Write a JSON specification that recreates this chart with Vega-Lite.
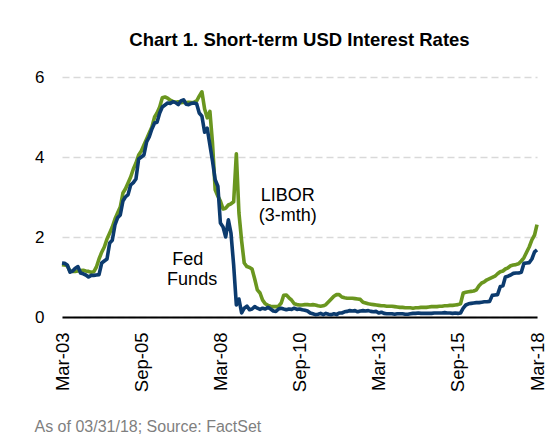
{
  "$schema": "https://vega.github.io/schema/vega-lite/v6.json",
  "width": 475,
  "height": 240,
  "autosize": "none",
  "padding": {"left": 62, "top": 77, "right": 22, "bottom": 120},
  "background": "white",
  "config": {"view": {"stroke": null}, "font": "Liberation Sans"},
  "title": {"text": "Chart 1. Short-term USD Interest Rates", "font": "Liberation Sans", "fontSize": 18.5, "fontWeight": "bold", "color": "#000000", "anchor": "middle", "offset": 19},
  "data": {"values": [
    {"d":"2003/03/01","f":1.35,"l":1.31},{"d":"2003/04/01","f":1.34,"l":1.30},{"d":"2003/05/01","f":1.30,"l":1.28},{"d":"2003/06/01","f":1.12,"l":1.15},{"d":"2003/07/01","f":1.15,"l":1.14},{"d":"2003/08/01","f":1.22,"l":1.14},{"d":"2003/09/01","f":1.26,"l":1.15},{"d":"2003/10/01","f":1.10,"l":1.16},{"d":"2003/11/01","f":1.08,"l":1.17},{"d":"2003/12/01","f":1.05,"l":1.15},
    {"d":"2004/01/01","f":1.00,"l":1.14},{"d":"2004/02/01","f":1.04,"l":1.12},{"d":"2004/03/01","f":1.04,"l":1.13},{"d":"2004/04/01","f":1.05,"l":1.25},{"d":"2004/05/01","f":1.06,"l":1.45},{"d":"2004/06/01","f":1.35,"l":1.62},{"d":"2004/07/01","f":1.40,"l":1.75},{"d":"2004/08/01","f":1.45,"l":1.95},{"d":"2004/09/01","f":1.85,"l":2.10},{"d":"2004/10/01","f":1.92,"l":2.25},{"d":"2004/11/01","f":2.30,"l":2.45},{"d":"2004/12/01","f":2.48,"l":2.60},
    {"d":"2005/01/01","f":2.55,"l":2.75},{"d":"2005/02/01","f":2.90,"l":3.10},{"d":"2005/03/01","f":3.00,"l":3.20},{"d":"2005/04/01","f":3.06,"l":3.35},{"d":"2005/05/01","f":3.30,"l":3.50},{"d":"2005/06/01","f":3.36,"l":3.70},{"d":"2005/07/01","f":3.45,"l":3.85},{"d":"2005/08/01","f":3.95,"l":4.05},{"d":"2005/09/01","f":4.00,"l":4.15},{"d":"2005/10/01","f":4.05,"l":4.30},{"d":"2005/11/01","f":4.38,"l":4.45},{"d":"2005/12/01","f":4.50,"l":4.60},
    {"d":"2006/01/01","f":4.70,"l":4.75},{"d":"2006/02/01","f":4.85,"l":5.00},{"d":"2006/03/01","f":4.87,"l":5.10},{"d":"2006/04/01","f":5.10,"l":5.25},{"d":"2006/05/01","f":5.25,"l":5.48},{"d":"2006/06/01","f":5.30,"l":5.50},{"d":"2006/07/01","f":5.35,"l":5.47},{"d":"2006/08/01","f":5.34,"l":5.42},{"d":"2006/09/01","f":5.38,"l":5.39},{"d":"2006/10/01","f":5.36,"l":5.37},{"d":"2006/11/01","f":5.31,"l":5.38},{"d":"2006/12/01","f":5.40,"l":5.36},
    {"d":"2007/01/01","f":5.43,"l":5.37},{"d":"2007/02/01","f":5.32,"l":5.36},{"d":"2007/03/01","f":5.31,"l":5.37},{"d":"2007/04/01","f":5.34,"l":5.36},{"d":"2007/05/01","f":5.35,"l":5.37},{"d":"2007/06/01","f":5.33,"l":5.40},{"d":"2007/07/01","f":5.10,"l":5.52},{"d":"2007/08/01","f":5.02,"l":5.63},{"d":"2007/09/01","f":4.62,"l":5.20},{"d":"2007/10/01","f":4.72,"l":4.98},{"d":"2007/11/01","f":4.30,"l":5.14},{"d":"2007/12/01","f":3.90,"l":4.35},
    {"d":"2008/01/01","f":3.43,"l":3.18},{"d":"2008/02/01","f":3.27,"l":3.02},{"d":"2008/03/01","f":2.35,"l":2.90},{"d":"2008/04/01","f":2.25,"l":2.70},{"d":"2008/05/01","f":2.00,"l":2.72},{"d":"2008/06/01","f":2.43,"l":2.80},{"d":"2008/07/01","f":2.10,"l":2.83},{"d":"2008/08/01","f":1.30,"l":2.88},{"d":"2008/09/01","f":0.30,"l":4.08},{"d":"2008/10/01","f":0.45,"l":2.60},{"d":"2008/11/01","f":0.10,"l":1.90},{"d":"2008/12/01","f":0.22,"l":1.35},
    {"d":"2009/01/01","f":0.27,"l":1.26},{"d":"2009/02/01","f":0.18,"l":1.24},{"d":"2009/03/01","f":0.20,"l":1.20},{"d":"2009/04/01","f":0.26,"l":0.95},{"d":"2009/05/01","f":0.22,"l":0.68},{"d":"2009/06/01","f":0.19,"l":0.60},{"d":"2009/07/01","f":0.22,"l":0.42},{"d":"2009/08/01","f":0.20,"l":0.33},{"d":"2009/09/01","f":0.24,"l":0.29},{"d":"2009/10/01","f":0.20,"l":0.27},{"d":"2009/11/01","f":0.15,"l":0.26},{"d":"2009/12/01","f":0.14,"l":0.26},
    {"d":"2010/01/01","f":0.20,"l":0.27},{"d":"2010/02/01","f":0.22,"l":0.35},{"d":"2010/03/01","f":0.20,"l":0.54},{"d":"2010/04/01","f":0.18,"l":0.55},{"d":"2010/05/01","f":0.20,"l":0.48},{"d":"2010/06/01","f":0.19,"l":0.42},{"d":"2010/07/01","f":0.22,"l":0.33},{"d":"2010/08/01","f":0.19,"l":0.31},{"d":"2010/09/01","f":0.20,"l":0.30},{"d":"2010/10/01","f":0.18,"l":0.30},{"d":"2010/11/01","f":0.17,"l":0.31},{"d":"2010/12/01","f":0.15,"l":0.31},
    {"d":"2011/01/01","f":0.10,"l":0.30},{"d":"2011/02/01","f":0.08,"l":0.31},{"d":"2011/03/01","f":0.06,"l":0.30},{"d":"2011/04/01","f":0.07,"l":0.28},{"d":"2011/05/01","f":0.09,"l":0.27},{"d":"2011/06/01","f":0.06,"l":0.28},{"d":"2011/07/01","f":0.09,"l":0.31},{"d":"2011/08/01","f":0.07,"l":0.38},{"d":"2011/09/01","f":0.06,"l":0.45},{"d":"2011/10/01","f":0.08,"l":0.52},{"d":"2011/11/01","f":0.06,"l":0.56},{"d":"2011/12/01","f":0.10,"l":0.56},
    {"d":"2012/01/01","f":0.10,"l":0.50},{"d":"2012/02/01","f":0.13,"l":0.48},{"d":"2012/03/01","f":0.14,"l":0.47},{"d":"2012/04/01","f":0.16,"l":0.47},{"d":"2012/05/01","f":0.15,"l":0.47},{"d":"2012/06/01","f":0.16,"l":0.46},{"d":"2012/07/01","f":0.13,"l":0.45},{"d":"2012/08/01","f":0.15,"l":0.44},{"d":"2012/09/01","f":0.16,"l":0.37},{"d":"2012/10/01","f":0.15,"l":0.35},{"d":"2012/11/01","f":0.16,"l":0.33},{"d":"2012/12/01","f":0.14,"l":0.32},
    {"d":"2013/01/01","f":0.13,"l":0.31},{"d":"2013/02/01","f":0.14,"l":0.30},{"d":"2013/03/01","f":0.10,"l":0.29},{"d":"2013/04/01","f":0.12,"l":0.28},{"d":"2013/05/01","f":0.09,"l":0.28},{"d":"2013/06/01","f":0.08,"l":0.27},{"d":"2013/07/01","f":0.08,"l":0.27},{"d":"2013/08/01","f":0.08,"l":0.27},{"d":"2013/09/01","f":0.07,"l":0.26},{"d":"2013/10/01","f":0.08,"l":0.25},{"d":"2013/11/01","f":0.08,"l":0.24},{"d":"2013/12/01","f":0.08,"l":0.24},
    {"d":"2014/01/01","f":0.07,"l":0.23},{"d":"2014/02/01","f":0.07,"l":0.23},{"d":"2014/03/01","f":0.08,"l":0.23},{"d":"2014/04/01","f":0.09,"l":0.22},{"d":"2014/05/01","f":0.09,"l":0.23},{"d":"2014/06/01","f":0.10,"l":0.23},{"d":"2014/07/01","f":0.09,"l":0.24},{"d":"2014/08/01","f":0.09,"l":0.24},{"d":"2014/09/01","f":0.09,"l":0.24},{"d":"2014/10/01","f":0.09,"l":0.25},{"d":"2014/11/01","f":0.09,"l":0.26},{"d":"2014/12/01","f":0.10,"l":0.26},
    {"d":"2015/01/01","f":0.10,"l":0.26},{"d":"2015/02/01","f":0.10,"l":0.27},{"d":"2015/03/01","f":0.10,"l":0.27},{"d":"2015/04/01","f":0.11,"l":0.28},{"d":"2015/05/01","f":0.10,"l":0.28},{"d":"2015/06/01","f":0.10,"l":0.29},{"d":"2015/07/01","f":0.09,"l":0.29},{"d":"2015/08/01","f":0.10,"l":0.30},{"d":"2015/09/01","f":0.09,"l":0.31},{"d":"2015/10/01","f":0.10,"l":0.33},{"d":"2015/11/01","f":0.22,"l":0.60},{"d":"2015/12/01","f":0.30,"l":0.62},
    {"d":"2016/01/01","f":0.33,"l":0.63},{"d":"2016/02/01","f":0.34,"l":0.64},{"d":"2016/03/01","f":0.35,"l":0.65},{"d":"2016/04/01","f":0.36,"l":0.68},{"d":"2016/05/01","f":0.36,"l":0.78},{"d":"2016/06/01","f":0.37,"l":0.85},{"d":"2016/07/01","f":0.38,"l":0.88},{"d":"2016/08/01","f":0.38,"l":0.93},{"d":"2016/09/01","f":0.39,"l":0.96},{"d":"2016/10/01","f":0.54,"l":0.99},{"d":"2016/11/01","f":0.55,"l":1.02},{"d":"2016/12/01","f":0.56,"l":1.08},
    {"d":"2017/01/01","f":0.76,"l":1.13},{"d":"2017/02/01","f":0.78,"l":1.15},{"d":"2017/03/01","f":1.00,"l":1.20},{"d":"2017/04/01","f":1.02,"l":1.23},{"d":"2017/05/01","f":1.05,"l":1.28},{"d":"2017/06/01","f":1.09,"l":1.30},{"d":"2017/07/01","f":1.10,"l":1.31},{"d":"2017/08/01","f":1.10,"l":1.33},{"d":"2017/09/01","f":1.12,"l":1.40},{"d":"2017/10/01","f":1.34,"l":1.48},{"d":"2017/11/01","f":1.35,"l":1.62},{"d":"2017/12/01","f":1.36,"l":1.75},
    {"d":"2018/01/01","f":1.45,"l":1.93},{"d":"2018/02/01","f":1.63,"l":2.05},{"d":"2018/03/01","f":1.68,"l":2.31}
  ]},
  "encoding": {
    "x": {
      "field": "d", "type": "temporal",
      "scale": {"domain": [{"year": 2003, "month": 3, "date": 1}, {"year": 2018, "month": 3, "date": 1}]},
      "axis": {
        "values": [
          {"year": 2003, "month": 3, "date": 1}, {"year": 2005, "month": 9, "date": 1},
          {"year": 2008, "month": 3, "date": 1}, {"year": 2010, "month": 9, "date": 1},
          {"year": 2013, "month": 3, "date": 1}, {"year": 2015, "month": 9, "date": 1},
          {"year": 2018, "month": 3, "date": 1}
        ],
        "format": "%b-%y",
        "labelAngle": 270, "labelAlign": "right", "labelBaseline": "middle",
        "labelFontSize": 18.5, "labelColor": "#000000", "labelPadding": 15,
        "labelFlush": false, "labelOverlap": false,
        "ticks": false, "grid": false,
        "domainColor": "#000000", "domainWidth": 2,
        "title": "As of 03/31/18; Source: FactSet",
        "titleAlign": "left", "titleAnchor": "start", "titleBaseline": "alphabetic",
        "titleX": -28, "titleY": 114,
        "titleFontSize": 16, "titleFontWeight": "normal", "titleColor": "#7F7F7F"
      }
    },
    "y": {
      "field": "value", "type": "quantitative",
      "scale": {"domain": [0, 6], "nice": false},
      "axis": {
        "values": [0, 2, 4, 6], "title": null, "domain": false, "ticks": false,
        "gridColor": "#D9D9D9", "gridDash": [7, 4], "gridWidth": 1.5,
        "labelFontSize": 17, "labelColor": "#000000", "labelPadding": 18
      }
    }
  },
  "layer": [
    {
      "transform": [{"fold": ["l"], "as": ["series", "value"]}],
      "mark": {"type": "line", "color": "#6A961F", "strokeWidth": 3.6, "strokeJoin": "round"}
    },
    {
      "transform": [{"fold": ["f"], "as": ["series", "value"]}],
      "mark": {"type": "line", "color": "#0C3B6E", "strokeWidth": 3.6, "strokeJoin": "round"}
    },
    {
      "data": {"values": [
        {"t": "LIBOR", "d": "2010/04/16", "value": 3.03},
        {"t": "(3-mth)", "d": "2010/04/16", "value": 2.52},
        {"t": "Fed", "d": "2007/02/20", "value": 1.43},
        {"t": "Funds", "d": "2007/04/10", "value": 0.93}
      ]},
      "mark": {"type": "text", "fontSize": 18, "color": "#000000", "baseline": "middle", "align": "center", "font": "Liberation Sans"},
      "encoding": {"text": {"field": "t"}}
    }
  ]
}
